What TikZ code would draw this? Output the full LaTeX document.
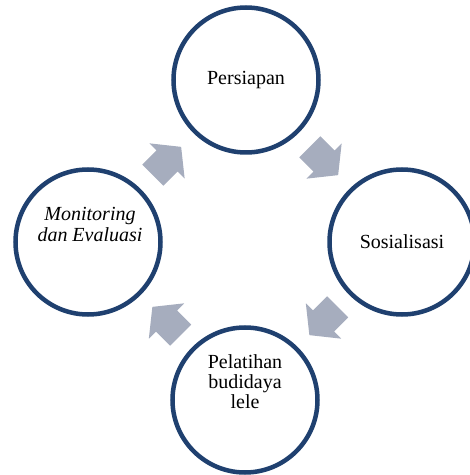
\documentclass[tikz,border=0pt]{standalone}
\usepackage{fontspec}
\setmainfont{Liberation Serif}
\usetikzlibrary{calc}

\definecolor{ringblue}{RGB}{31,64,111}
\definecolor{arrowgray}{RGB}{166,173,190}

\tikzset{
  ring/.style={circle, draw=ringblue, line width=4.5pt, minimum size=145pt, inner sep=0pt},
  ringtext/.style={align=center, font=\fontsize{20}{20}\selectfont},
  blockarrow/.style={fill=arrowgray}
}

\begin{document}
\begin{tikzpicture}[x=1pt,y=1pt]
                % Canvas
                \useasboundingbox (0,0) rectangle (470,475);

                % Circles
                \node[ring, ringtext] (pers) at (246,395) {Persiapan};
                \node[ring, ringtext] (sos) at (402,233) {Sosialisasi};
                \node[ring] (pel) at (245,75) {};
                \node[ring] (mon) at (88,233) {};

                % Text of the lower and left circles (sits above the centre)
                \node[ringtext] (peltext) at ($(pel)+(0,18)$) {Pelatihan\\budidaya\\lele};
                \node[ringtext, font=\fontsize{20}{21}\selectfont\itshape] (montext) at ($(mon)+(2,18)$) {Monitoring\\dan Evaluasi};

                % Block arrows between the circles, clockwise
                \fill[blockarrow, shift={($(mon)!0.5!(pers)$)}, rotate=45]
                    (-20,-15) -- (0,-15) -- (0,-25) -- (20,0) -- (0,25) -- (0,15) -- (-20,15) -- cycle;
                \fill[blockarrow, shift={($(pers)!0.5!(sos)$)}, rotate=-45]
                    (-20,-15) -- (0,-15) -- (0,-25) -- (20,0) -- (0,25) -- (0,15) -- (-20,15) -- cycle;
                \fill[blockarrow, shift={($(sos)!0.5!(pel)$)}, rotate=-135]
                    (-20,-15) -- (0,-15) -- (0,-25) -- (20,0) -- (0,25) -- (0,15) -- (-20,15) -- cycle;
                \fill[blockarrow, shift={($(pel)!0.5!(mon)$)}, rotate=135]
                    (-20,-15) -- (0,-15) -- (0,-25) -- (20,0) -- (0,25) -- (0,15) -- (-20,15) -- cycle;
\end{tikzpicture}
\end{document}
